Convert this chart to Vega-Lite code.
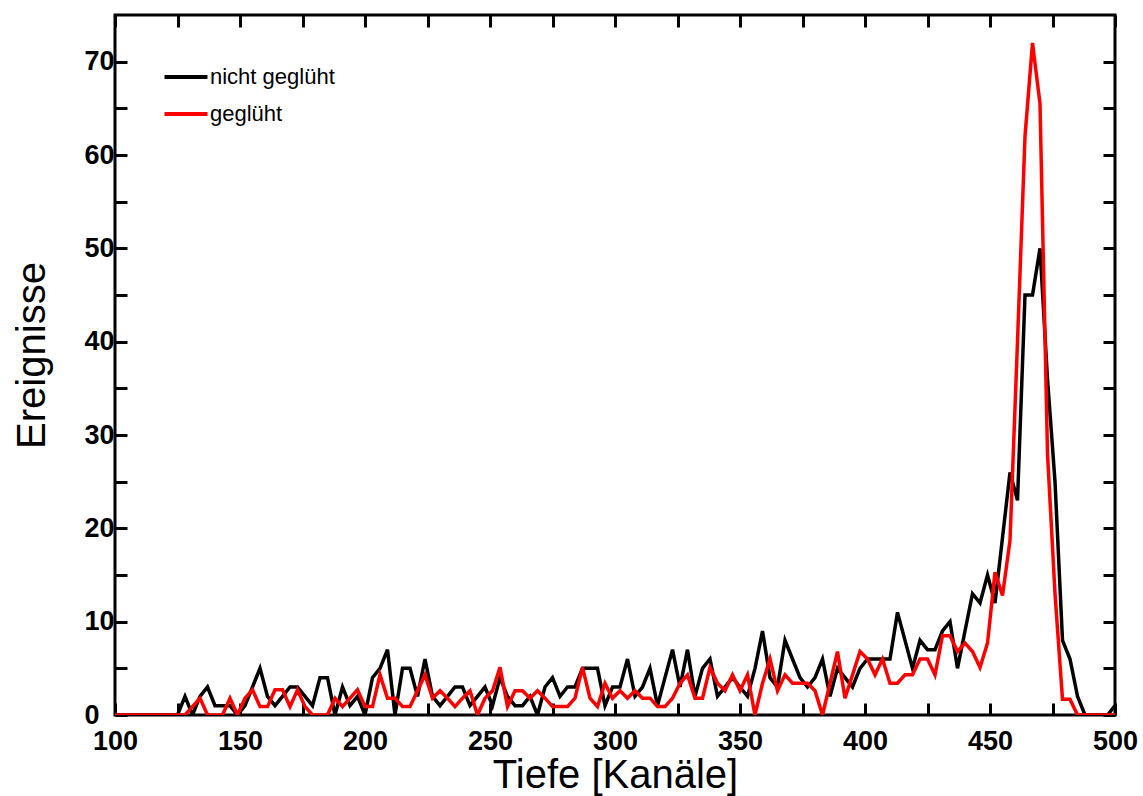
{
  "$schema": "https://vega.github.io/schema/vega-lite/v6.json",
  "width": 1000,
  "height": 700,
  "autosize": {"type": "none"},
  "padding": {"left": 115, "top": 15, "right": 28, "bottom": 81},
  "background": "white",
  "datasets": {
    "nicht": [
      {"tiefe": 100, "ereignisse": 0}, {"tiefe": 125, "ereignisse": 0}, {"tiefe": 128, "ereignisse": 2}, {"tiefe": 131, "ereignisse": 0},
      {"tiefe": 134, "ereignisse": 2}, {"tiefe": 137, "ereignisse": 3}, {"tiefe": 140, "ereignisse": 1}, {"tiefe": 143, "ereignisse": 1},
      {"tiefe": 146, "ereignisse": 1}, {"tiefe": 149, "ereignisse": 0}, {"tiefe": 152, "ereignisse": 1}, {"tiefe": 155, "ereignisse": 3},
      {"tiefe": 158, "ereignisse": 5}, {"tiefe": 161, "ereignisse": 2}, {"tiefe": 164, "ereignisse": 1}, {"tiefe": 167, "ereignisse": 2},
      {"tiefe": 170, "ereignisse": 3}, {"tiefe": 173, "ereignisse": 3}, {"tiefe": 176, "ereignisse": 2}, {"tiefe": 179, "ereignisse": 1},
      {"tiefe": 182, "ereignisse": 4}, {"tiefe": 185, "ereignisse": 4}, {"tiefe": 188, "ereignisse": 0}, {"tiefe": 191, "ereignisse": 3},
      {"tiefe": 194, "ereignisse": 1}, {"tiefe": 197, "ereignisse": 2}, {"tiefe": 200, "ereignisse": 0}, {"tiefe": 203, "ereignisse": 4},
      {"tiefe": 206, "ereignisse": 5}, {"tiefe": 209, "ereignisse": 7}, {"tiefe": 212, "ereignisse": 0}, {"tiefe": 215, "ereignisse": 5},
      {"tiefe": 218, "ereignisse": 5}, {"tiefe": 221, "ereignisse": 2}, {"tiefe": 224, "ereignisse": 6}, {"tiefe": 227, "ereignisse": 2},
      {"tiefe": 230, "ereignisse": 1}, {"tiefe": 233, "ereignisse": 2}, {"tiefe": 236, "ereignisse": 3}, {"tiefe": 239, "ereignisse": 3},
      {"tiefe": 242, "ereignisse": 1}, {"tiefe": 245, "ereignisse": 2}, {"tiefe": 248, "ereignisse": 3}, {"tiefe": 251, "ereignisse": 1},
      {"tiefe": 254, "ereignisse": 4}, {"tiefe": 257, "ereignisse": 2}, {"tiefe": 260, "ereignisse": 1}, {"tiefe": 263, "ereignisse": 1},
      {"tiefe": 266, "ereignisse": 2}, {"tiefe": 269, "ereignisse": 0}, {"tiefe": 272, "ereignisse": 3}, {"tiefe": 275, "ereignisse": 4},
      {"tiefe": 278, "ereignisse": 2}, {"tiefe": 281, "ereignisse": 3}, {"tiefe": 284, "ereignisse": 3}, {"tiefe": 287, "ereignisse": 5},
      {"tiefe": 290, "ereignisse": 5}, {"tiefe": 293, "ereignisse": 5}, {"tiefe": 296, "ereignisse": 1}, {"tiefe": 299, "ereignisse": 3},
      {"tiefe": 302, "ereignisse": 3}, {"tiefe": 305, "ereignisse": 6}, {"tiefe": 308, "ereignisse": 2}, {"tiefe": 311, "ereignisse": 3},
      {"tiefe": 314, "ereignisse": 5}, {"tiefe": 317, "ereignisse": 1}, {"tiefe": 320, "ereignisse": 4}, {"tiefe": 323, "ereignisse": 7},
      {"tiefe": 326, "ereignisse": 3}, {"tiefe": 329, "ereignisse": 7}, {"tiefe": 332, "ereignisse": 2}, {"tiefe": 335, "ereignisse": 5},
      {"tiefe": 338, "ereignisse": 6}, {"tiefe": 341, "ereignisse": 2}, {"tiefe": 344, "ereignisse": 3}, {"tiefe": 347, "ereignisse": 4},
      {"tiefe": 350, "ereignisse": 3}, {"tiefe": 353, "ereignisse": 2}, {"tiefe": 356, "ereignisse": 5}, {"tiefe": 359, "ereignisse": 9},
      {"tiefe": 362, "ereignisse": 4}, {"tiefe": 365, "ereignisse": 3}, {"tiefe": 368, "ereignisse": 8}, {"tiefe": 371, "ereignisse": 6},
      {"tiefe": 374, "ereignisse": 4}, {"tiefe": 377, "ereignisse": 3}, {"tiefe": 380, "ereignisse": 4}, {"tiefe": 383, "ereignisse": 6},
      {"tiefe": 386, "ereignisse": 2}, {"tiefe": 389, "ereignisse": 5}, {"tiefe": 392, "ereignisse": 4}, {"tiefe": 395, "ereignisse": 3},
      {"tiefe": 398, "ereignisse": 5}, {"tiefe": 401, "ereignisse": 6}, {"tiefe": 404, "ereignisse": 6}, {"tiefe": 407, "ereignisse": 6},
      {"tiefe": 410, "ereignisse": 6}, {"tiefe": 413, "ereignisse": 11}, {"tiefe": 416, "ereignisse": 8}, {"tiefe": 419, "ereignisse": 5},
      {"tiefe": 422, "ereignisse": 8}, {"tiefe": 425, "ereignisse": 7}, {"tiefe": 428, "ereignisse": 7}, {"tiefe": 431, "ereignisse": 9},
      {"tiefe": 434, "ereignisse": 10}, {"tiefe": 437, "ereignisse": 5}, {"tiefe": 440, "ereignisse": 9}, {"tiefe": 443, "ereignisse": 13},
      {"tiefe": 446, "ereignisse": 12}, {"tiefe": 449, "ereignisse": 15}, {"tiefe": 452, "ereignisse": 12}, {"tiefe": 455, "ereignisse": 19},
      {"tiefe": 458, "ereignisse": 26}, {"tiefe": 461, "ereignisse": 23}, {"tiefe": 464, "ereignisse": 45}, {"tiefe": 467, "ereignisse": 45},
      {"tiefe": 470, "ereignisse": 50}, {"tiefe": 473, "ereignisse": 36}, {"tiefe": 476, "ereignisse": 25}, {"tiefe": 479, "ereignisse": 8},
      {"tiefe": 482, "ereignisse": 6}, {"tiefe": 485, "ereignisse": 2}, {"tiefe": 488, "ereignisse": 0}, {"tiefe": 491, "ereignisse": 0},
      {"tiefe": 494, "ereignisse": 0}, {"tiefe": 497, "ereignisse": 0}, {"tiefe": 500, "ereignisse": 1}
    ],
    "gegl": [
      {"tiefe": 100, "ereignisse": 0}, {"tiefe": 125, "ereignisse": 0}, {"tiefe": 128, "ereignisse": 0}, {"tiefe": 131, "ereignisse": 0.9},
      {"tiefe": 134, "ereignisse": 1.8}, {"tiefe": 137, "ereignisse": 0}, {"tiefe": 140, "ereignisse": 0}, {"tiefe": 143, "ereignisse": 0},
      {"tiefe": 146, "ereignisse": 1.8}, {"tiefe": 149, "ereignisse": 0}, {"tiefe": 152, "ereignisse": 1.8}, {"tiefe": 155, "ereignisse": 2.7},
      {"tiefe": 158, "ereignisse": 0.9}, {"tiefe": 161, "ereignisse": 0.9}, {"tiefe": 164, "ereignisse": 2.7}, {"tiefe": 167, "ereignisse": 2.7},
      {"tiefe": 170, "ereignisse": 0.9}, {"tiefe": 173, "ereignisse": 2.7}, {"tiefe": 176, "ereignisse": 0.9}, {"tiefe": 179, "ereignisse": 0},
      {"tiefe": 182, "ereignisse": 0}, {"tiefe": 185, "ereignisse": 0}, {"tiefe": 188, "ereignisse": 1.8}, {"tiefe": 191, "ereignisse": 0.9},
      {"tiefe": 194, "ereignisse": 1.8}, {"tiefe": 197, "ereignisse": 2.7}, {"tiefe": 200, "ereignisse": 0.9}, {"tiefe": 203, "ereignisse": 0.9},
      {"tiefe": 206, "ereignisse": 4.3}, {"tiefe": 209, "ereignisse": 1.8}, {"tiefe": 212, "ereignisse": 1.8}, {"tiefe": 215, "ereignisse": 0.9},
      {"tiefe": 218, "ereignisse": 0.9}, {"tiefe": 221, "ereignisse": 2.6}, {"tiefe": 224, "ereignisse": 4.3}, {"tiefe": 227, "ereignisse": 1.8},
      {"tiefe": 230, "ereignisse": 2.6}, {"tiefe": 233, "ereignisse": 1.8}, {"tiefe": 236, "ereignisse": 0.9}, {"tiefe": 239, "ereignisse": 1.8},
      {"tiefe": 242, "ereignisse": 2.6}, {"tiefe": 245, "ereignisse": 0}, {"tiefe": 248, "ereignisse": 1.8}, {"tiefe": 251, "ereignisse": 2.6},
      {"tiefe": 254, "ereignisse": 5.1}, {"tiefe": 257, "ereignisse": 0.9}, {"tiefe": 260, "ereignisse": 2.6}, {"tiefe": 263, "ereignisse": 2.6},
      {"tiefe": 266, "ereignisse": 1.8}, {"tiefe": 269, "ereignisse": 2.6}, {"tiefe": 272, "ereignisse": 1.8}, {"tiefe": 275, "ereignisse": 0.9},
      {"tiefe": 278, "ereignisse": 0.9}, {"tiefe": 281, "ereignisse": 0.9}, {"tiefe": 284, "ereignisse": 1.8}, {"tiefe": 287, "ereignisse": 5.1},
      {"tiefe": 290, "ereignisse": 1.8}, {"tiefe": 293, "ereignisse": 0.9}, {"tiefe": 296, "ereignisse": 3.4}, {"tiefe": 299, "ereignisse": 1.8},
      {"tiefe": 302, "ereignisse": 2.6}, {"tiefe": 305, "ereignisse": 1.8}, {"tiefe": 308, "ereignisse": 2.6}, {"tiefe": 311, "ereignisse": 1.8},
      {"tiefe": 314, "ereignisse": 1.8}, {"tiefe": 317, "ereignisse": 0.9}, {"tiefe": 320, "ereignisse": 0.9}, {"tiefe": 323, "ereignisse": 1.8},
      {"tiefe": 326, "ereignisse": 3.4}, {"tiefe": 329, "ereignisse": 4.3}, {"tiefe": 332, "ereignisse": 1.8}, {"tiefe": 335, "ereignisse": 1.8},
      {"tiefe": 338, "ereignisse": 5.1}, {"tiefe": 341, "ereignisse": 3.4}, {"tiefe": 344, "ereignisse": 2.6}, {"tiefe": 347, "ereignisse": 4.3},
      {"tiefe": 350, "ereignisse": 2.6}, {"tiefe": 353, "ereignisse": 4.3}, {"tiefe": 356, "ereignisse": 0}, {"tiefe": 359, "ereignisse": 3.4},
      {"tiefe": 362, "ereignisse": 6}, {"tiefe": 365, "ereignisse": 2.6}, {"tiefe": 368, "ereignisse": 4.3}, {"tiefe": 371, "ereignisse": 3.4},
      {"tiefe": 374, "ereignisse": 3.4}, {"tiefe": 377, "ereignisse": 3.4}, {"tiefe": 380, "ereignisse": 2.6}, {"tiefe": 383, "ereignisse": 0},
      {"tiefe": 386, "ereignisse": 3.4}, {"tiefe": 389, "ereignisse": 6.8}, {"tiefe": 392, "ereignisse": 1.8}, {"tiefe": 395, "ereignisse": 4.3},
      {"tiefe": 398, "ereignisse": 6.8}, {"tiefe": 401, "ereignisse": 6}, {"tiefe": 404, "ereignisse": 4.3}, {"tiefe": 407, "ereignisse": 6},
      {"tiefe": 410, "ereignisse": 3.4}, {"tiefe": 413, "ereignisse": 3.4}, {"tiefe": 416, "ereignisse": 4.3}, {"tiefe": 419, "ereignisse": 4.3},
      {"tiefe": 422, "ereignisse": 6}, {"tiefe": 425, "ereignisse": 6}, {"tiefe": 428, "ereignisse": 4.3}, {"tiefe": 431, "ereignisse": 8.5},
      {"tiefe": 434, "ereignisse": 8.5}, {"tiefe": 437, "ereignisse": 6.8}, {"tiefe": 440, "ereignisse": 7.7}, {"tiefe": 443, "ereignisse": 6.8},
      {"tiefe": 446, "ereignisse": 5.1}, {"tiefe": 449, "ereignisse": 7.7}, {"tiefe": 452, "ereignisse": 15.3}, {"tiefe": 455, "ereignisse": 12.8},
      {"tiefe": 458, "ereignisse": 18.7}, {"tiefe": 461, "ereignisse": 40}, {"tiefe": 464, "ereignisse": 62}, {"tiefe": 467, "ereignisse": 72},
      {"tiefe": 470, "ereignisse": 65.5}, {"tiefe": 473, "ereignisse": 28}, {"tiefe": 476, "ereignisse": 13}, {"tiefe": 479, "ereignisse": 1.7},
      {"tiefe": 482, "ereignisse": 1.7}, {"tiefe": 485, "ereignisse": 0}, {"tiefe": 488, "ereignisse": 0}, {"tiefe": 491, "ereignisse": 0},
      {"tiefe": 494, "ereignisse": 0}, {"tiefe": 497, "ereignisse": 0}, {"tiefe": 500, "ereignisse": 0}
    ]
  },
  "config": {
    "view": {"stroke": "black", "strokeWidth": 3},
    "axis": {
      "grid": false,
      "domain": false,
      "tickColor": "black",
      "tickWidth": 3,
      "tickSize": -12,
      "labelFont": "Liberation Sans",
      "labelFontWeight": "bold",
      "labelFontSize": 27,
      "labelColor": "black",
      "labelOverlap": false,
      "labelBound": false,
      "labelFlush": false,
      "titleFont": "Liberation Sans",
      "titleFontSize": 40,
      "titleFontWeight": "normal",
      "titleColor": "black"
    },
    "legend": {
      "orient": "none",
      "legendX": 47,
      "legendY": 38,
      "symbolType": "stroke",
      "symbolStrokeWidth": 4,
      "symbolSize": 1850,
      "labelFont": "Liberation Sans",
      "labelFontSize": 22,
      "labelColor": "black",
      "rowPadding": 2,
      "labelOffset": 0
    }
  },
  "layer": [
    {
      "data": {"name": "nicht"},
      "mark": {"type": "line", "strokeWidth": 3.5, "clip": true},
      "encoding": {
        "x": {
          "field": "tiefe", "type": "quantitative",
          "scale": {"domain": [100, 500], "nice": false, "zero": false},
          "axis": {
            "orient": "bottom",
            "values": [100, 125, 150, 175, 200, 225, 250, 275, 300, 325, 350, 375, 400, 425, 450, 475, 500],
            "labelExpr": "datum.value % 50 === 0 ? datum.label : ''",
            "labelPadding": 25,
            "title": "Tiefe [Kanäle]",
            "titleBaseline": "alphabetic",
            "titleY": 72
          }
        },
        "y": {
          "field": "ereignisse", "type": "quantitative",
          "scale": {"domain": [0, 75], "nice": false},
          "axis": {
            "orient": "left",
            "values": [0, 5, 10, 15, 20, 25, 30, 35, 40, 45, 50, 55, 60, 65, 70],
            "labelExpr": "datum.value % 10 === 0 ? datum.label : ''",
            "labelAlign": "left",
            "labelPadding": 43,
            "title": "Ereignisse",
            "titleX": -71,
            "titleY": 340,
            "titleBaseline": "alphabetic"
          }
        },
        "color": {
          "datum": "nicht geglüht", "type": "nominal",
          "scale": {"domain": ["nicht geglüht", "geglüht"], "range": ["#000000", "#ff0000"]},
          "legend": {"title": null}
        }
      }
    },
    {
      "data": {"name": "gegl"},
      "mark": {"type": "line", "strokeWidth": 3.5, "clip": true},
      "encoding": {
        "x": {
          "field": "tiefe", "type": "quantitative",
          "axis": {
            "orient": "top",
            "values": [100, 125, 150, 175, 200, 225, 250, 275, 300, 325, 350, 375, 400, 425, 450, 475, 500],
            "labels": false,
            "title": null
          }
        },
        "y": {
          "field": "ereignisse", "type": "quantitative",
          "axis": {
            "orient": "right",
            "values": [0, 5, 10, 15, 20, 25, 30, 35, 40, 45, 50, 55, 60, 65, 70],
            "labels": false,
            "title": null
          }
        },
        "color": {"datum": "geglüht", "type": "nominal"}
      }
    }
  ],
  "resolve": {"axis": {"x": "independent", "y": "independent"}}
}
